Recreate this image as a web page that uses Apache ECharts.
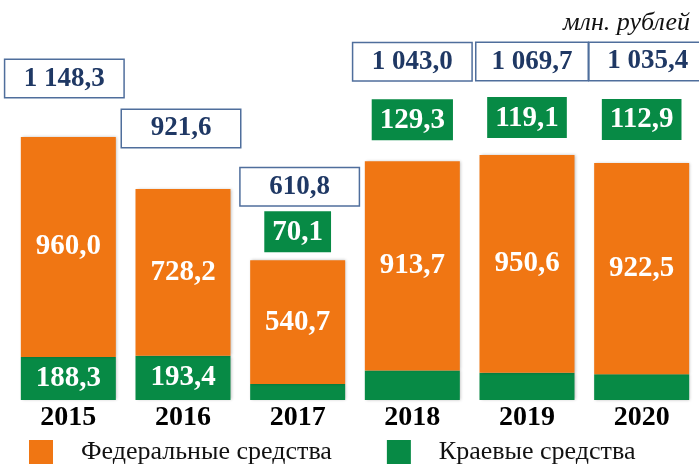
<!DOCTYPE html>
<html>
<head>
<meta charset="utf-8">
<script src="https://cdn.jsdelivr.net/npm/echarts@6/dist/echarts.min.js"></script>
<style>html,body{margin:0;padding:0;background:#fff}#c{width:699px;height:464px}</style>
</head>
<body>
<div id="c"></div>
<script>
// ---- data ----
var years = ['2015', '2016', '2017', '2018', '2019', '2020'];
var federal = [960.0, 728.2, 540.7, 913.7, 950.6, 922.5];
var regional = [188.3, 193.4, 70.1, 129.3, 119.1, 112.9];
var totals = [1148.3, 921.6, 610.8, 1043.0, 1069.7, 1035.4];
var unitLabel = 'млн. рублей';
var seriesNames = ['Федеральные средства', 'Краевые средства'];

// ---- helpers ----
function fmt(v) {
  var s = v.toFixed(1).split('.');
  var intPart = s[0].replace(/\B(?=(\d{3})+(?!\d))/g, ' ');
  return intPart + ',' + s[1];
}
var SERIF = "'Liberation Serif','Times New Roman',serif";
var ORANGE = '#F07613';
var GREEN = '#078A45';

// label layout (style, not data)
var totalDist = [40, 42, 55, 81, 75, 83];
var totalOffX = [-4, -2, 2, 0, 5, 6];
var totalW = [106, 106, 106, 106, 99, 104];
var regDist = [0, 0, 8, 21, 17, 23];
var inside = regional.map(function (v) { return v > 150; });

var chart = echarts.init(document.getElementById('c'), null, {renderer: 'canvas'});
var option = {
  animation: false,
  title: {
    text: unitLabel, right: 4, top: 5,
    textStyle: {fontFamily: SERIF, fontStyle: 'italic', fontWeight: 'normal', fontSize: 26, color: '#111'}
  },
  grid: {left: 11, right: -10, top: 60, bottom: 64},
  legend: {
    data: [seriesNames[0], seriesNames[1]],
    left: 24, top: 434, itemWidth: 24, itemHeight: 24, itemGap: 55, icon: 'rect',
    textStyle: {fontFamily: SERIF, fontSize: 26, color: '#111', padding: [0, 0, 0, 23]}
  },
  xAxis: {
    type: 'category', data: years,
    axisLine: {show: false}, axisTick: {show: false},
    axisLabel: {fontFamily: SERIF, fontWeight: 'bold', fontSize: 28, color: '#000', margin: 4}
  },
  yAxis: {type: 'value', min: 0, max: 1485, show: false, splitLine: {show: false}},
  series: [
    {
      name: seriesNames[1], type: 'bar', stack: 's', barWidth: 95,
      itemStyle: {color: GREEN, shadowBlur: 3, shadowColor: 'rgba(0,0,0,0.25)', shadowOffsetX: 1},
      data: regional.map(function (v, i) {
        return {value: v, label: {show: inside[i]}};
      }),
      label: {
        position: 'inside', color: '#fff', fontFamily: SERIF, fontWeight: 'bold', fontSize: 29,
        formatter: function (p) { return fmt(p.value); }
      }
    },
    {
      name: seriesNames[0], type: 'bar', stack: 's', barWidth: 95,
      itemStyle: {color: ORANGE, shadowBlur: 3, shadowColor: 'rgba(0,0,0,0.25)', shadowOffsetX: 1},
      data: federal,
      label: {
        show: true, position: 'inside', color: '#fff', fontFamily: SERIF, fontWeight: 'bold', fontSize: 29,
        formatter: function (p) { return fmt(p.value); }
      }
    },
    {
      name: 'totals', type: 'scatter', symbolSize: 0, silent: true, z: 10,
      itemStyle: {opacity: 1},
      data: totals.map(function (v, i) {
        return {value: v, label: {distance: totalDist[i], offset: [totalOffX[i], 0], width: totalW[i]}};
      }),
      label: {
        show: true, position: 'top', color: '#1F3864', fontFamily: SERIF, fontWeight: 'bold', fontSize: 27,
        backgroundColor: '#fff', borderColor: '#4F6E9C', borderWidth: 1.5,
        padding: [1, 6], height: 35, lineHeight: 35, align: 'center',
        formatter: function (p) { return fmt(p.value); }
      }
    },
    {
      name: 'regionalTop', type: 'scatter', symbolSize: 0, silent: true, z: 10,
      itemStyle: {opacity: 1},
      data: totals.map(function (v, i) {
        return {value: v, label: {show: !inside[i], distance: regDist[i],
          formatter: fmt(regional[i])}};
      }),
      label: {
        position: 'top', color: '#fff', fontFamily: SERIF, fontWeight: 'bold', fontSize: 29,
        backgroundColor: GREEN, padding: [6, 8, 5, 8], lineHeight: 30
      }
    }
  ]
};
chart.setOption(option);
</script>
</body>
</html>
